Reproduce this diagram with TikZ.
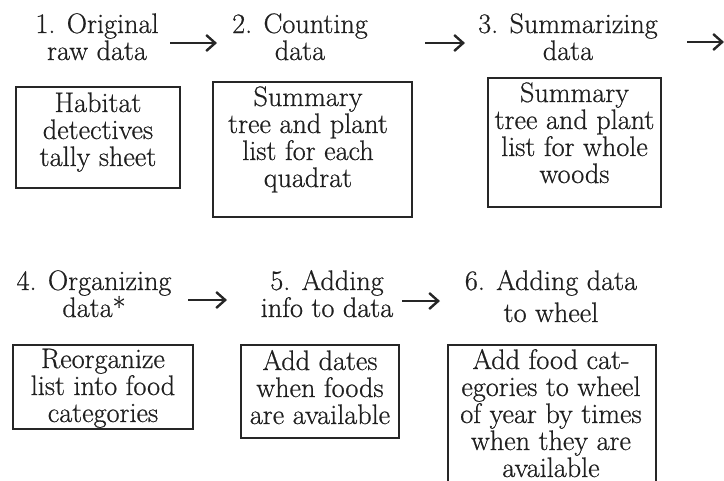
\documentclass[tikz,border=0pt]{standalone}
\usepackage{fontspec}
\setmainfont{Latin Modern Roman}[FakeBold=0.6]
\usetikzlibrary{arrows.meta}
\begin{document}
\begin{tikzpicture}[x=1pt,y=-1pt,
  lbl/.style={align=center, inner sep=0pt, anchor=base, font={\fontsize{28.2}{27}\selectfont}, text=black!88},
  boxr/.style={draw=black!85, line width=1.8pt},
  arr/.style={line width=2.4pt, draw=black!85, -{Straight Barb[length=9pt,width=16pt]}}]
\useasboundingbox (0,0) rectangle (724,480);
\clip (0,0) rectangle (724,480);
% titles (positions give the baseline of the last line)
\node[lbl] (t1) at (97,60) {1. Original\\raw data};
\node[lbl] (t2) at (300,60) {2. Counting\\data};
\node[lbl] (t3) at (568,60) {3. Summarizing\\data};
\node[lbl] (t4) at (94,317) {4. Organizing\\data*};
\node[lbl] (t5) at (327,317) {5. Adding\\info to data};
\node[lbl] (t6) at (551,322) {6. Adding data\\[5pt]to wheel};
% boxes
\draw[boxr] (16,87) rectangle (180,188);
\draw[boxr] (213,82) rectangle (412,217);
\draw[boxr] (488,78) rectangle (661,207);
\draw[boxr] (13,345) rectangle (193,429);
\draw[boxr] (241,345) rectangle (399,438);
\draw[boxr] (448,345) rectangle (656,490);
% box texts
\node[lbl] (x1) at (98,166) {Habitat\\detectives\\tally sheet};
\node[lbl] (x2) at (308,187) {Summary\\tree and plant\\list for each\\quadrat};
\node[lbl] (x3) at (574.5,183) {Summary\\tree and plant\\list for whole\\woods};
\node[lbl] (x4) at (103,422) {Reorganize\\list into food\\categories};
\node[lbl] (x5) at (320,424) {Add dates\\when foods\\are available};
\node[lbl] (x6) at (551,477) {Add food cat-\\egories to wheel\\of year by times\\when they are\\available};
% arrows
\coordinate (a1s) at (170,43); \coordinate (a1e) at (217,43);
\coordinate (a2s) at (425,43); \coordinate (a2e) at (465,43);
\coordinate (a3s) at (687,42); \coordinate (a3e) at (724,42);
\coordinate (a4s) at (188,300); \coordinate (a4e) at (227,300);
\coordinate (a5s) at (402,301); \coordinate (a5e) at (440,301);
\draw[arr] (a1s) -- (a1e);
\draw[arr] (a2s) -- (a2e);
\draw[arr] (a3s) -- (a3e);
\draw[arr] (a4s) -- (a4e);
\draw[arr] (a5s) -- (a5e);
\end{tikzpicture}
\end{document}
